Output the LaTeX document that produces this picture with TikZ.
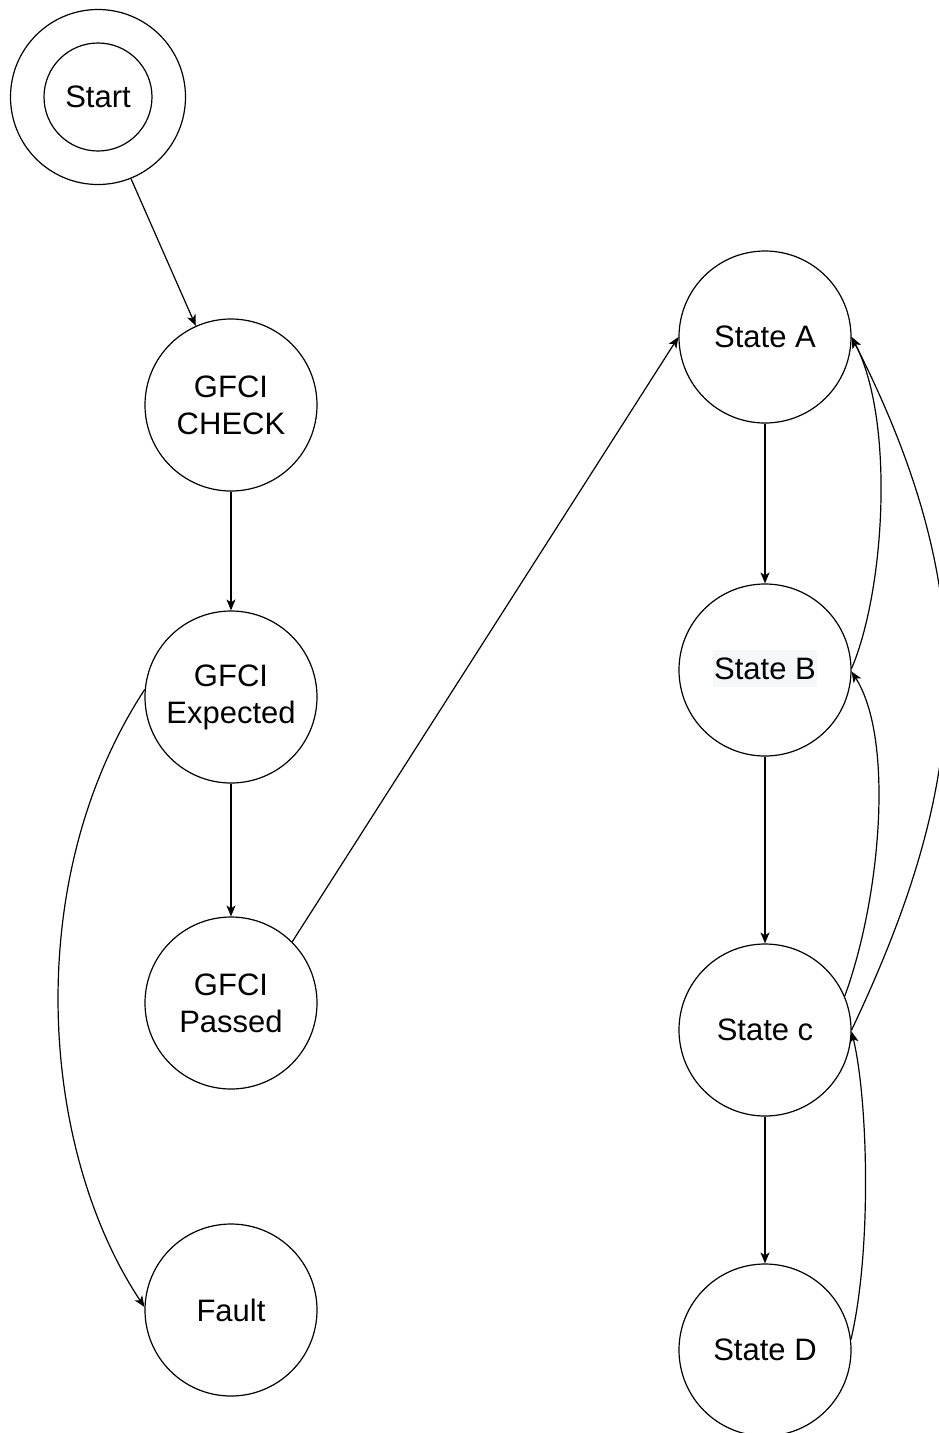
\documentclass[tikz,border=0pt]{standalone}
\usepackage{fontspec}
\setmainfont{Liberation Sans}
\usetikzlibrary{arrows.meta}
\definecolor{hl}{HTML}{F6F7F9}
\begin{document}
\begin{tikzpicture}[x=1pt,y=-1pt,
  state/.style={circle,draw,line width=1.2pt,minimum size=172pt,inner sep=0pt,align=center,
    font=\fontsize{31}{37}\selectfont},
  conn/.style={line width=1.2pt,-{Stealth[length=11pt,width=9pt,inset=3pt]}}]
\useasboundingbox (0,0) rectangle (938,1433);
\node[circle,draw,line width=1.2pt,minimum size=175pt] (start) at (98,97) {};
\node[state,minimum size=108pt] (starti) at (98,97) {Start};
\node[state] (check) at (231,405) {GFCI\\CHECK};
\node[state] (exp) at (231,697) {GFCI\\Expected};
\node[state] (pass) at (231,1003) {GFCI\\Passed};
\node[state] (fault) at (231,1310) {Fault};
\node[state] (a) at (765,337) {State A};
\node[state] (b) at (765,670) {};
\node[fill=hl,inner sep=0pt,minimum width=104pt,minimum height=37pt,font=\fontsize{31}{37}\selectfont] (blabel) at (765,668.5) {State B};
\node[state] (c) at (765,1030) {State c};
\node[state] (d) at (765,1350) {State D};
\draw[conn] (start.-68) -- (check.114);
\draw[conn] (check.south) -- (exp.north);
\draw[conn] (exp.south) -- (pass.north);
\draw[conn] (exp.175) .. controls (20,880) and (40,1150) .. (fault.178);
\draw[conn] (pass.45) -- (a.west);
\draw[conn] (a.south) -- (b.north);
\draw[conn] (b.south) -- (c.north);
\draw[conn] (c.south) -- (d.north);
\draw[conn] (b.1) .. controls (885,590) and (895,420) .. (a.east);
\draw[conn] (c.23) .. controls (880,900) and (895,740) .. (b.-1);
\draw[conn] (c.east) .. controls (970,780) and (985,600) .. (a.east);
\draw[conn] (d.7) .. controls (872,1250) and (868,1100) .. (c.-1);
\end{tikzpicture}
\end{document}
